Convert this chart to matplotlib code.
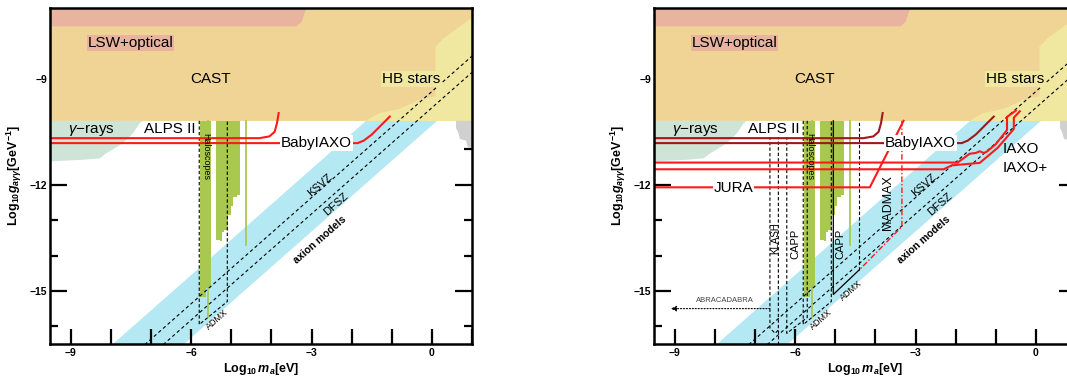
import matplotlib
matplotlib.use('Agg')
import matplotlib.pyplot as plt

plt.rcParams['font.family'] = ['Liberation Sans', 'DejaVu Sans']
plt.rcParams['mathtext.fontset'] = 'custom'
plt.rcParams['mathtext.rm'] = 'Liberation Sans'
plt.rcParams['mathtext.it'] = 'Liberation Sans:italic'
plt.rcParams['mathtext.bf'] = 'Liberation Sans:bold'
plt.rcParams['mathtext.bfit'] = 'Liberation Sans:bold:italic'

# ---- data (log10 m_a [eV], log10 g [GeV^-1]) ----
x_lim = (-9.52, 1.0)
y_lim = (-16.5, -7.0)
cast_edge = -10.19

cast_x = [-9.6, -1.64, -1.45, -1.3, -0.81, -0.5, -0.3, 0.09, 0.09, 0.3, 0.93, 1.1, 1.1, -9.6]
cast_y = [-10.19, -10.19, -10.05, -9.97, -9.85, -9.7, -9.58, -9.5, -8.09, -7.85, -7.33, -7.25, -7.0, -7.0]
lsw_x = [-9.6, -3.38, -3.25, -3.13, -9.6]
lsw_y = [-7.52, -7.52, -7.4, -7.0, -7.0]
gamma_x = [-9.6, -7.2, -7.28, -7.45, -7.7, -7.95, -8.11, -8.28, -8.69, -9.6]
gamma_y = [-10.19, -10.19, -10.25, -10.54, -10.82, -11.0, -11.1, -11.25, -11.29, -11.34]
gray_x = [0.6, 1.1, 1.1, 0.9, 0.85, 0.7, 0.65, 0.6]
gray_y = [-10.19, -10.19, -10.95, -10.95, -10.75, -10.7, -10.5, -10.4]

band_x = [-10.0, 2.0]
band_upper = [-18.55, -6.55]
band_lower = [-20.32, -8.32]
ksvz_y = [-19.36, -7.36]
dfsz_y = [-19.82, -7.82]

halo1_edges = [-5.77, -5.62, -5.50]
halo1_bottom = [-15.16, -14.92]
halo2_edges = [-5.39, -5.29, -5.22, -5.17, -5.08, -5.00, -4.96, -4.87, -4.79]
halo2_bottom = [-13.56, -13.60, -13.32, -13.27, -12.85, -12.61, -12.33, -12.28]
halo_lines_x = [-5.58, -4.64]
halo_lines_bottom = [-15.73, -13.70]

admx_box_x = [-5.8, -5.8, -5.1, -5.1]
admx_box_y = [-10.19, -15.95, -15.3, -10.19]

alps_x = [-9.6, -4.3, -4.05, -3.92, -3.86, -3.82]
alps_y = [-10.68, -10.68, -10.63, -10.5, -10.25, -9.97]
baby_x = [-9.6, -1.85, -1.7, -1.5, -1.05]
baby_y = [-10.82, -10.82, -10.75, -10.58, -10.07]

# right panel only
iaxo_x = [-9.6, -1.95, -1.65, -1.5, -1.4, -1.3, -1.22, -1.0, -0.72, -0.72, -0.5]
iaxo_y = [-11.37, -11.37, -11.12, -11.1, -11.05, -11.1, -11.06, -10.85, -10.45, -10.08, -9.9]
iaxo_plus_x = [-9.6, -2.3, -2.1, -1.4, -0.95, -0.55, -0.55, -0.4]
iaxo_plus_y = [-11.56, -11.56, -11.45, -11.38, -10.95, -10.42, -10.1, -9.92]
jura_x = [-9.6, -4.14, -3.3]
jura_y = [-12.07, -12.07, -10.19]
madmax_x = [-3.34, -3.34, -4.38]
madmax_y = [-10.19, -13.18, -14.38]
klash_x = [-6.63, -6.63, -6.5, -6.42, -6.42]
klash_y = [-10.63, -16.05, -16.2, -16.1, -10.63]
klash_right_x = [-6.42, -6.42]
klash_right_y = [-16.1, -16.5]
capp1_x = [-6.21, -6.21, -5.7, -5.7]
capp1_y = [-10.63, -16.2, -15.75, -10.19]
capp2_x = [-5.05, -5.05, -4.4]
capp2_y = [-10.19, -15.1, -14.4]
capp2_right_x = [-4.4, -4.4]
capp2_right_y = [-14.4, -10.19]
abra_start = (-6.63, -15.5)
abra_end = (-9.1, -15.5)

xticks = list(range(-9, 2))
xticklabels = ['−9', '', '', '−6', '', '', '−3', '', '', '0', '']
yticks = [-15, -12, -9]
yticklabels = ['−15', '−12', '−9']
yminor = [-16, -14, -13, -11, -10, -8]

c_cast = '#f0d496'
c_lsw = '#e8b4a0'
c_hb = '#f0e8a0'
c_gamma = '#cde4d6'
c_band = '#b4e8f2'
c_halo = '#a8c850'
c_gray = '#d0d0d0'
red = '#ff1a1a'
dark_red = '#a01818'
rot = 41.3


def draw_common(ax, alps_color):
    ax.fill_between(band_x, band_lower, band_upper, color=c_band, lw=0, zorder=1)
    ax.axhspan(cast_edge, -7.0, color=c_hb, lw=0, zorder=2)
    ax.fill(cast_x, cast_y, color=c_cast, lw=0, zorder=2)
    ax.fill(lsw_x, lsw_y, color=c_lsw, lw=0, zorder=2)
    ax.fill(gamma_x, gamma_y, color=c_gamma, lw=0, zorder=2)
    ax.fill(gray_x, gray_y, color=c_gray, lw=0, zorder=2)

    # haloscopes
    ax.fill_between(halo1_edges, halo1_bottom + halo1_bottom[-1:], cast_edge,
                    step='post', color=c_halo, lw=0, zorder=3)
    ax.fill_between(halo2_edges, halo2_bottom + halo2_bottom[-1:], cast_edge,
                    step='post', color=c_halo, lw=0, zorder=3)
    for hx, hb in zip(halo_lines_x, halo_lines_bottom):
        ax.plot([hx, hx], [cast_edge, hb], color=c_halo, lw=1.3, zorder=3)

    # model lines
    ax.plot(band_x, ksvz_y, color='black', lw=0.8, ls=(0, (3, 2.5)), zorder=4)
    ax.plot(band_x, dfsz_y, color='black', lw=0.8, ls=(0, (3, 2.5)), zorder=4)
    ax.plot(admx_box_x, admx_box_y, color='black', lw=0.8, ls=(0, (3, 2)), zorder=4)

    # helioscopes
    ax.plot(alps_x, alps_y, color=alps_color, lw=1.5, zorder=5)
    ax.plot(baby_x, baby_y, color=alps_color, lw=1.5, zorder=5)

    big = 11
    ax.text(-7.52, -7.99, 'LSW+optical', fontsize=big, ha='center', va='center', zorder=6,
            bbox=dict(boxstyle='square,pad=0.05', fc=c_lsw, ec='none'))
    ax.text(-5.52, -9.0, 'CAST', fontsize=big, ha='center', va='center', zorder=6)
    ax.text(-0.52, -9.0, 'HB stars', fontsize=big, ha='center', va='center', zorder=6,
            bbox=dict(boxstyle='square,pad=0.05', fc=c_hb, ec='none'))
    ax.text(-8.5, -10.44, r'$\gamma$−rays', fontsize=big, ha='center', va='center', zorder=6)
    ax.text(-6.53, -10.42, 'ALPS II', fontsize=big, ha='center', va='center', zorder=6,
            bbox=dict(boxstyle='square,pad=0.05', fc='white', ec='none'))
    ax.text(-2.88, -10.82, 'BabyIAXO', fontsize=big, ha='center', va='center', zorder=6,
            bbox=dict(boxstyle='square,pad=0.05', fc='white', ec='none'))
    ax.text(-2.8, -12.0, 'KSVZ', fontsize=8, ha='center', va='center', rotation=rot, zorder=6)
    ax.text(-2.4, -12.54, 'DFSZ', fontsize=8, ha='center', va='center', rotation=rot, zorder=6)
    ax.text(-2.8, -13.56, 'axion models', fontsize=7.5, fontweight='bold', ha='center',
            va='center', rotation=rot, zorder=6)
    ax.text(-5.63, -11.2, 'Haloscopes', fontsize=6.5, ha='center', va='center',
            rotation=-90, zorder=6)
    ax.text(-5.36, -15.82, 'ADMX', fontsize=6.5, ha='center', va='center', rotation=rot, zorder=6)

    ax.set_xlim(*x_lim)
    ax.set_ylim(*y_lim)
    ax.set_xticks(xticks)
    ax.set_xticklabels(xticklabels, fontsize=7.5, fontweight='bold')
    ax.set_yticks(yticks)
    ax.set_yticklabels(yticklabels, fontsize=7.5, fontweight='bold')
    ax.set_yticks(yminor, minor=True)
    ax.tick_params(which='both', direction='in', top=True, right=True, width=1.6)
    ax.tick_params(axis='x', which='major', length=11, pad=3)
    ax.tick_params(axis='y', which='major', length=12, pad=2)
    ax.tick_params(axis='y', which='minor', length=6)
    for s in ax.spines.values():
        s.set_linewidth(1.8)
        s.set_zorder(7)
    ax.set_xlabel(r'$\mathbf{Log_{10}}\,\mathbfit{m}_{\mathbfit{a}}\mathbf{[eV]}$', fontsize=9, labelpad=2)
    ax.set_ylabel(r'$\mathbf{Log_{10}}\mathbfit{g}_{\mathbfit{a\gamma\gamma}}\mathbf{[GeV^{-1}]}$',
                  fontsize=9, labelpad=4)


fig = plt.figure(figsize=(10.67, 3.76), dpi=100)
ax1 = fig.add_axes([50 / 1067, 32 / 376, 422 / 1067, 336 / 376])
ax2 = fig.add_axes([654 / 1067, 32 / 376, 422 / 1067, 336 / 376])

draw_common(ax1, red)
draw_common(ax2, dark_red)

# right panel: future experiments
dash = dict(color='black', lw=0.8, ls=(0, (3, 2)), zorder=4)
ax2.plot(klash_x, klash_y, **dash)
ax2.plot(klash_right_x, klash_right_y, **dash)
ax2.plot(capp1_x, capp1_y, **dash)
ax2.plot(capp2_x, capp2_y, color='black', lw=0.9, zorder=4)
ax2.plot(capp2_right_x, capp2_right_y, **dash)
ax2.plot(madmax_x, madmax_y, color=red, lw=1.0, ls=(0, (4, 1.5, 1, 1.5)), zorder=4)
ax2.plot(jura_x, jura_y, color=red, lw=1.5, zorder=5)
ax2.plot(iaxo_x, iaxo_y, color=red, lw=1.5, zorder=5)
ax2.plot(iaxo_plus_x, iaxo_plus_y, color=red, lw=1.5, zorder=5)
ax2.annotate('', xy=abra_end, xytext=abra_start, zorder=5,
             arrowprops=dict(arrowstyle='-|>', ls=':', lw=0.8, color='black',
                             mutation_scale=8, shrinkA=0, shrinkB=0))

ax2.text(-7.53, -12.1, 'JURA', fontsize=11, ha='center', va='center', zorder=6,
         bbox=dict(boxstyle='square,pad=0.05', fc='white', ec='none'))
ax2.text(-0.83, -11.0, 'IAXO', fontsize=11, ha='left', va='center', zorder=6)
ax2.text(-0.83, -11.52, 'IAXO+', fontsize=11, ha='left', va='center', zorder=6)
ax2.text(-6.5, -13.5, 'KLASH', fontsize=7, ha='center', va='center', rotation=90, zorder=6)
ax2.text(-6.0, -13.68, 'CAPP', fontsize=8, ha='center', va='center', rotation=90, zorder=6)
ax2.text(-4.87, -13.68, 'CAPP', fontsize=8, ha='center', va='center', rotation=90, zorder=6)
ax2.text(-3.68, -12.5, 'MADMAX', fontsize=9, ha='center', va='center', rotation=90, zorder=6)
ax2.text(-4.6, -15.0, 'ADMX', fontsize=6.5, ha='center', va='center', rotation=rot, zorder=6)
ax2.text(-7.74, -15.28, 'ABRACADABRA', fontsize=5.5, color='#444444', ha='center',
         va='center', zorder=6)

fig.savefig('out.png', dpi=100)
